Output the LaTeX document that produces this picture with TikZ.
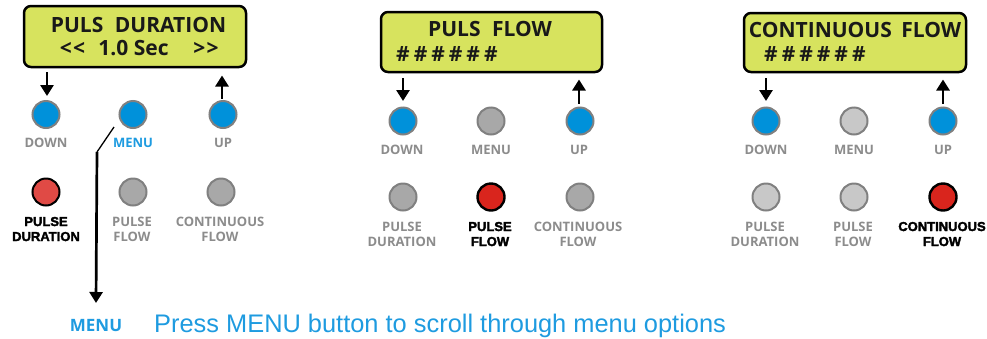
\documentclass[tikz,border=0pt]{standalone}
\usepackage{fontspec}
\usetikzlibrary{arrows.meta}
\setmainfont{Open Sans}
\newfontfamily\lcdfont{Open Sans}
\newfontfamily\lblfont{Open Sans}
\newfontfamily\heavyfont{Liberation Sans}[UprightFont={* Bold}, UprightFeatures={FakeBold=2.5}]
\newfontfamily\notefont{Liberation Sans}
\definecolor{lcdgreen}{HTML}{D7E35E}
\definecolor{btnblue}{HTML}{0091DA}
\definecolor{btnrim}{HTML}{808080}
\definecolor{btngrey}{HTML}{A8A8A8}
\definecolor{btnlight}{HTML}{C8C8C8}
\definecolor{btnredA}{HTML}{E04A45}
\definecolor{btnredB}{HTML}{D9251D}
\definecolor{lblgrey}{HTML}{8C8C8C}
\definecolor{lblblue}{HTML}{1E9BE0}
\tikzset{
  lcd/.style={draw=black, line width=2.5pt, rounded corners=7pt, fill=lcdgreen, inner sep=0},
  lcdtext/.style={text=black!90, font=\lcdfont\bfseries\fontsize{21}{24}\selectfont, inner sep=0, anchor=base},
  btn/.style={circle, draw=btnrim, line width=2pt, minimum size=27pt, inner sep=0},
  bluebtn/.style={btn, fill=btnblue},
  greybtn/.style={btn, fill=btngrey},
  lightbtn/.style={btn, fill=btnlight},
  redbtnA/.style={btn, draw=black, fill=btnredA},
  redbtnB/.style={btn, draw=black, line width=2.4pt, fill=btnredB},
  lbl/.style={text=lblgrey, font=\lblfont\bfseries\fontsize{13}{15}\selectfont, inner sep=0, anchor=base},
  bluelbl/.style={lbl, text=lblblue},
  actlbl/.style={text=black, font=\heavyfont\fontsize{13}{15}\selectfont, inner sep=0, anchor=base},
  keyarrow/.style={line width=2.7pt, -{Triangle[width=13pt,length=11pt]}},
}
\newcommand{\hashrow}{\#\hspace{4pt}\#\hspace{4pt}\#\hspace{4pt}\#\hspace{4pt}\#\hspace{4pt}\#}
\begin{document}
\begin{tikzpicture}[x=1pt,y=-1pt]
\useasboundingbox (0,0) rectangle (987,338);

% ---------- Panel 1 ----------
\node[lcd, minimum width=222pt, minimum height=61pt] (lcd1) at (135,36.5) {};
\node[lcdtext] (t1) at (138.5,32) {PULS\hspace{0.55em}DURATION};
\node[lcdtext] (t1a) at (72.5,55) {<\hspace{1.5pt}<};
\node[lcdtext] (t1b) at (133.5,55) {1.0 Sec};
\node[lcdtext] (t1c) at (206,55) {>\hspace{1.5pt}>};

\node[bluebtn] (down1) at (46,114.5) {};
\node[bluebtn] (menu1) at (133,114.5) {};
\node[bluebtn] (up1) at (223,114.5) {};
\node[lbl] (ldown1) at (46,147) {DOWN};
\node[bluelbl] (lmenu1) at (133,147) {MENU};
\node[lbl] (lup1) at (223,147) {UP};

\node[redbtnA] (pd1) at (46,192) {};
\node[greybtn] (pf1) at (133,192) {};
\node[greybtn] (cf1) at (221,192) {};
\node[actlbl] (lpd1a) at (46,226) {PULSE};
\node[actlbl] (lpd1b) at (46,241) {DURATION};
\node[lbl] (lpf1a) at (132,226) {PULSE};
\node[lbl] (lpf1b) at (132,241) {FLOW};
\node[lbl] (lcf1a) at (220,226) {CONTINUOUS};
\node[lbl] (lcf1b) at (220,241) {FLOW};

\coordinate (a1s) at (47,72);
\coordinate (a1e) at (47,96);
\coordinate (b1s) at (222,98.5);
\coordinate (b1e) at (222,75.5);
\draw[keyarrow] (a1s) -- (a1e);
\draw[keyarrow] (b1s) -- (b1e);

% MENU leader
\coordinate (m0) at (114,127);
\coordinate (m1) at (97,152);
\coordinate (m2) at (96,303);
\draw[line width=1.3pt] (m0) -- (m1);
\draw[keyarrow] (m1) -- (m2);

% ---------- Panel 2 ----------
\node[lcd, minimum width=221pt, minimum height=60pt] (lcd2) at (491.5,42) {};
\node[lcdtext] (t2) at (490,36) {PULS\hspace{0.55em}FLOW};
\node[lcdtext, anchor=base west] (t2b) at (396,61) {\hashrow};

\node[bluebtn] (down2) at (403,121) {};
\node[greybtn] (menu2) at (491,121) {};
\node[bluebtn] (up2) at (580,121) {};
\node[lbl] (ldown2) at (402,154) {DOWN};
\node[lbl] (lmenu2) at (491,154) {MENU};
\node[lbl] (lup2) at (579,154) {UP};

\node[greybtn] (pd2) at (403,197) {};
\node[redbtnB] (pf2) at (491,197) {};
\node[greybtn] (cf2) at (580,197) {};
\node[lbl] (lpd2a) at (402,231) {PULSE};
\node[lbl] (lpd2b) at (402,246) {DURATION};
\node[actlbl] (lpf2a) at (490,231) {PULSE};
\node[actlbl] (lpf2b) at (490,246) {FLOW};
\node[lbl] (lcf2a) at (578,231) {CONTINUOUS};
\node[lbl] (lcf2b) at (578,246) {FLOW};

\coordinate (a2s) at (403,78);
\coordinate (a2e) at (403,101);
\coordinate (b2s) at (579,103.5);
\coordinate (b2e) at (579,79.5);
\draw[keyarrow] (a2s) -- (a2e);
\draw[keyarrow] (b2s) -- (b2e);

% ---------- Panel 3 ----------
\node[lcd, minimum width=222pt, minimum height=59pt] (lcd3) at (855,42.5) {};
\node[lcdtext] (t3) at (855,37) {CONTINUOUS\hspace{0.45em}FLOW};
\node[lcdtext, anchor=base west] (t3b) at (764,61) {\hashrow};

\node[bluebtn] (down3) at (766,121) {};
\node[lightbtn] (menu3) at (854,121) {};
\node[bluebtn] (up3) at (943,121) {};
\node[lbl] (ldown3) at (766,154) {DOWN};
\node[lbl] (lmenu3) at (854,154) {MENU};
\node[lbl] (lup3) at (943,154) {UP};

\node[lightbtn] (pd3) at (766,197) {};
\node[lightbtn] (pf3) at (854,197) {};
\node[redbtnB] (cf3) at (943,197) {};
\node[lbl] (lpd3a) at (765,231) {PULSE};
\node[lbl] (lpd3b) at (765,246) {DURATION};
\node[lbl] (lpf3a) at (853,231) {PULSE};
\node[lbl] (lpf3b) at (853,246) {FLOW};
\node[actlbl] (lcf3a) at (942,231) {CONTINUOUS};
\node[actlbl] (lcf3b) at (942,246) {FLOW};

\coordinate (a3s) at (766,78);
\coordinate (a3e) at (766,101);
\coordinate (b3s) at (943,103.5);
\coordinate (b3e) at (943,79.5);
\draw[keyarrow] (a3s) -- (a3e);
\draw[keyarrow] (b3s) -- (b3e);

% ---------- Note ----------
\node[text=lblblue, font=\lblfont\bfseries\fontsize{17}{20}\selectfont, inner sep=0, anchor=base] (menunote) at (96,331) {MENU};
\node[text=lblblue, font=\notefont\fontsize{25.4}{28}\selectfont, inner sep=0, anchor=base west] (note) at (154,332) {Press MENU button to scroll through menu options};
\end{tikzpicture}
\end{document}
